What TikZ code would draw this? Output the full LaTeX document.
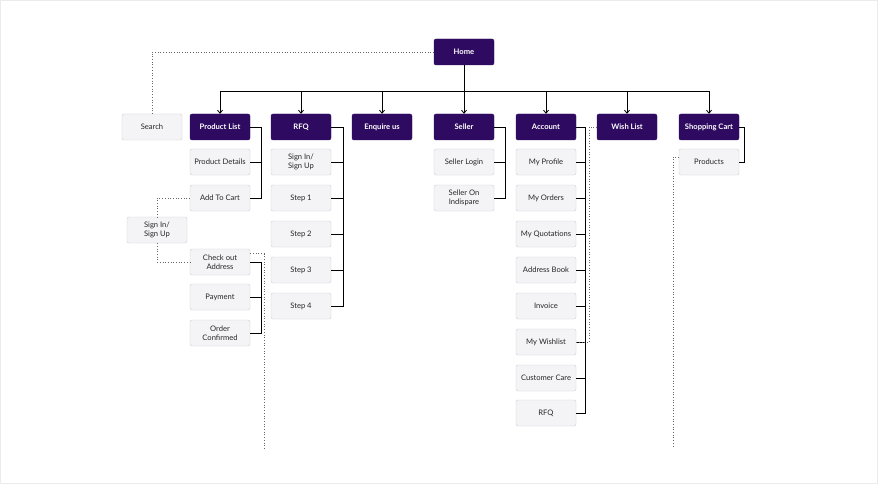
\documentclass[tikz,border=0pt]{standalone}
\usepackage{fontspec}
\setmainfont{Lato}
\usetikzlibrary{arrows.meta}
\definecolor{pur}{HTML}{2E0B60}
\definecolor{lf}{HTML}{F4F4F7}
\definecolor{lb}{HTML}{CDCDD6}
\begin{document}
\begin{tikzpicture}[x=1pt,y=-1pt,
 main/.style={draw=pur,fill=pur,rounded corners=2pt,minimum width=60pt,minimum height=26pt,text=white,font=\fontsize{7.6}{8.6}\selectfont\bfseries,align=center,inner sep=1pt},
 sub/.style={draw=lb,fill=lf,rounded corners=2pt,minimum width=60pt,minimum height=26pt,text=black!85,font=\fontsize{7.6}{8.6}\selectfont,align=center,inner sep=1pt},
 ln/.style={draw=black,line width=0.8pt},
 dt/.style={draw=black!60,dotted,line width=0.7pt},
 arr/.style={ln,-{Straight Barb[length=3pt,width=5pt]}}]
\useasboundingbox (0,0) rectangle (878,484);
\draw[black!8,fill=white] (0.5,0.5) rectangle (877.5,483.5);
\node[main] (home) at (464,52) {Home};
\node[sub] (search) at (152,127) {Search};
\node[main] (pl) at (220,127) {Product List};
\node[main] (rfq) at (301,127) {RFQ};
\node[main] (enq) at (382,127) {Enquire us};
\node[main] (sel) at (464,127) {Seller};
\node[main] (acc) at (546,127) {Account};
\node[main] (wl) at (627,127) {Wish List};
\node[main] (sc) at (709,127) {Shopping Cart};
% product list
\node[sub] (pd) at (220,162) {Product Details};
\node[sub] (atc) at (220,198) {Add To Cart};
\node[sub] (si) at (157,230) {Sign In/\\Sign Up};
\node[sub] (co) at (220,262) {Check out\\Address};
\node[sub] (pay) at (220,297) {Payment};
\node[sub] (oc) at (220,333) {Order\\Confirmed};
% rfq
\node[sub] (r0) at (301,162) {Sign In/\\Sign Up};
\node[sub] (r1) at (301,198) {Step 1};
\node[sub] (r2) at (301,234) {Step 2};
\node[sub] (r3) at (301,270) {Step 3};
\node[sub] (r4) at (301,306) {Step 4};
% seller
\node[sub] (s1) at (464,162) {Seller Login};
\node[sub] (s2) at (464,198) {Seller On\\Indispare};
% account
\node[sub] (a1) at (546,162) {My Profile};
\node[sub] (a2) at (546,198) {My Orders};
\node[sub] (a3) at (546,234) {My Quotations};
\node[sub] (a4) at (546,270) {Address Book};
\node[sub] (a5) at (546,306) {Invoice};
\node[sub] (a6) at (546,342) {My Wishlist};
\node[sub] (a7) at (546,378) {Customer Care};
\node[sub] (a8) at (546,413) {RFQ};
% shopping cart
\node[sub] (p1) at (709,162) {Products};
\coordinate (d1) at (264,448);
\coordinate (d2) at (673,448);
% home bus
\draw[ln] (home.south) -- (464,91);
\draw[ln] (220,91) -- (709,91);
\foreach \n in {pl,rfq,enq,sel,acc,wl,sc} \draw[arr] (\n.north |- 0,91) -- (\n.north);
\draw[dt] (search.north) |- (home.west);
% brackets
\draw[ln] (pl.east) -| (261,198) -- (atc.east);
\draw[ln] (pd.east) -- (261,162);
\draw[ln] (co.east) -| (261,333) -- (oc.east);
\draw[ln] (pay.east) -- (261,297);
\draw[ln] (rfq.east) -| (343,306) -- (r4.east);
\foreach \n/\y in {r0/162,r1/198,r2/234,r3/270} \draw[ln] (\n.east) -- (343,\y);
\draw[ln] (sel.east) -| (505,198) -- (s2.east);
\draw[ln] (s1.east) -- (505,162);
\draw[ln] (acc.east) -| (585,413) -- (a8.east);
\foreach \n/\y in {a1/162,a2/198,a3/234,a4/270,a5/306,a6/342,a7/378} \draw[ln] (\n.east) -- (585,\y);
\draw[ln] (sc.east) -| (744,162) -- (p1.east);
% dotted
\draw[dt] (atc.west) -| (si.north);
\draw[dt] (si.south) |- (co.west);
\draw[dt] ([yshift=-5pt]co.north east) -| (d1);
\draw[dt] (wl.west) -| (589,342) -- (a6.east);
\draw[dt] ([yshift=5pt]p1.west) -| (d2);
\end{tikzpicture}
\end{document}
